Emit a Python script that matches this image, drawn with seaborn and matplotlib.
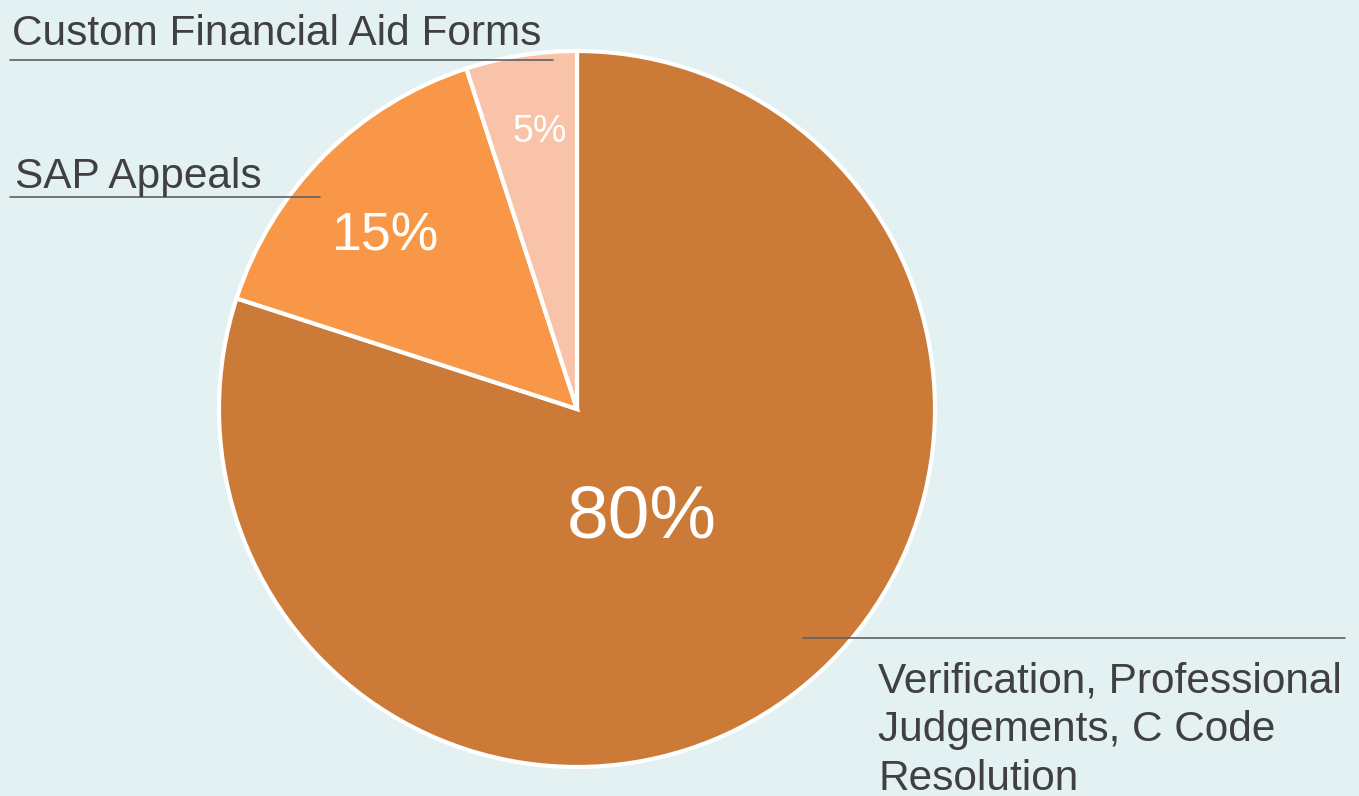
import numpy as np
import matplotlib
matplotlib.use("Agg")
import matplotlib.pyplot as plt
import seaborn as sns

sns.set_style("white")
plt.rcParams["font.family"] = ["Liberation Sans", "DejaVu Sans"]

# datos
categorias = ["Verification, Professional\nJudgements, C Code\nResolution",
              "SAP Appeals", "Custom Financial Aid Forms"]
valores = [80, 15, 5]
colores = ["#CC7A38", "#F79747", "#F9C3A9"]

BG = "#E3F1F2"
TXT = "#404040"

fig = plt.figure(figsize=(13.59, 7.96), dpi=100, facecolor=BG)
ax = fig.add_axes([0, 0, 1, 1])
ax.set_facecolor(BG)

# eje en pixeles (y hacia arriba)
wedges, _, pcts = ax.pie(valores, colors=colores, startangle=90, counterclock=False,
                         center=(577, 387), radius=358,
                         autopct="%1.0f%%", pctdistance=0.5,
                         wedgeprops=dict(edgecolor="white", linewidth=3),
                         textprops=dict(color="white"))
ax.set_xlim(0, 1359)
ax.set_ylim(0, 796)
ax.set_aspect("equal")
ax.axis("off")

# colocar los porcentajes dentro de cada sector
dist = [0.34, 0.73, 0.80]
tamanos = [54, 38.5, 27]
ajuste = [(-7, -11), (-7, -12), (8, -6)]
for w, t, d, s, (dx, dy) in zip(wedges, pcts, dist, tamanos, ajuste):
    ang = np.deg2rad((w.theta1 + w.theta2) / 2)
    t.set_position((577 + d * 358 * np.cos(ang) + dx, 387 + d * 358 * np.sin(ang) + dy))
    t.set_fontsize(s)
    t.set_ha("center")
    t.set_va("center")

# etiquetas con linea guia
fs = 30.5
ax.text(12, 796 - 45, categorias[2], fontsize=fs, color=TXT, ha="left", va="baseline")
ax.plot([10, 553], [796 - 60, 796 - 60], color="#606060", lw=1.2)

ax.text(15, 796 - 188, categorias[1], fontsize=fs, color=TXT, ha="left", va="baseline")
ax.plot([10, 320], [796 - 197, 796 - 197], color="#606060", lw=1.2)

ax.plot([803, 1345], [796 - 638, 796 - 638], color="#606060", lw=1.2)
# va='baseline' toma la ultima linea del texto
ax.text(878, 796 - 790, categorias[0], fontsize=fs, color=TXT, ha="left", va="baseline",
        linespacing=1.28)

plt.savefig("out.png", dpi=100, facecolor=BG)
plt.close()
